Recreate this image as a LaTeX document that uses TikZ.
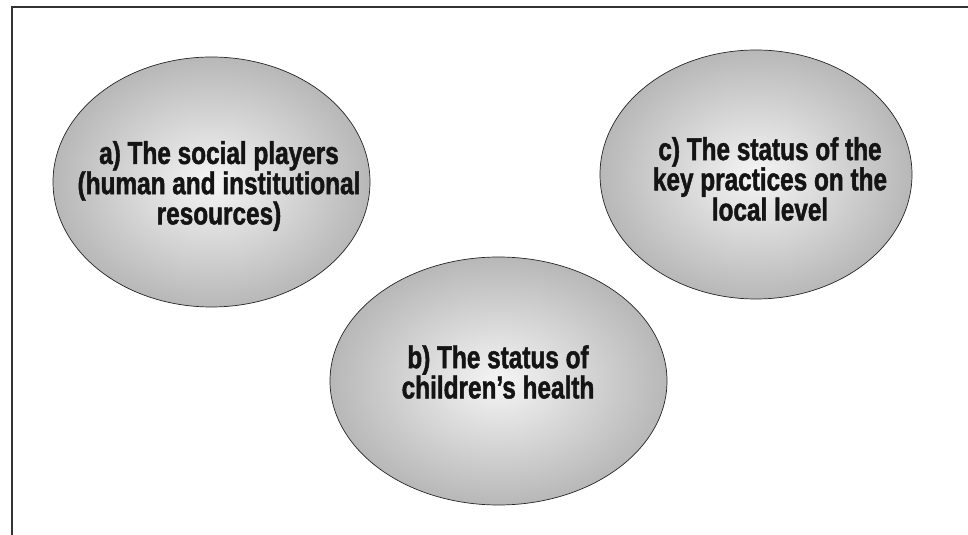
\documentclass[tikz,border=0pt]{standalone}
\usepackage{fontspec}
\newfontfamily\condfont[FakeStretch=0.77, BoldFeatures={FakeBold=1.4}]{Liberation Sans}
\usetikzlibrary{shapes.geometric}

\begin{document}
\begin{tikzpicture}[
	blob/.style={ellipse, draw=black!85, line width=0.6pt, shading=radial,
		inner color=black!4, outer color=black!28, inner sep=0pt},
	caption/.style={align=center, text=black!92,
		font=\condfont\bfseries\fontsize{27}{25.8}\selectfont}
	]

	\useasboundingbox (0, 0) rectangle (29.04, 16.05);

	\draw[line width=1.6pt, color=black!80] (0.36, 0) -- (0.36, 15.84) -- (29.04, 15.84); % Рамка

	% Три овала
	\node[blob, minimum width=9.51cm, minimum height=7.5cm] (players) at (6.345, 10.59) {};
	\node[blob, minimum width=9.36cm, minimum height=7.47cm] (practices) at (22.68, 10.815) {};
	\node[blob, minimum width=10.11cm, minimum height=7.44cm] (health) at (14.955, 4.62) {};

	\node[caption] (playerstext) at (6.57, 10.47) {a) The social players\\(human and institutional\\resources)};
	\node[caption] (practicestext) at (23.1, 10.68) {c) The status of the\\key practices on the\\local level};
	\node[caption] (healthtext) at (14.94, 4.89) {b) The status of\\children’s health};

\end{tikzpicture}
\end{document}
